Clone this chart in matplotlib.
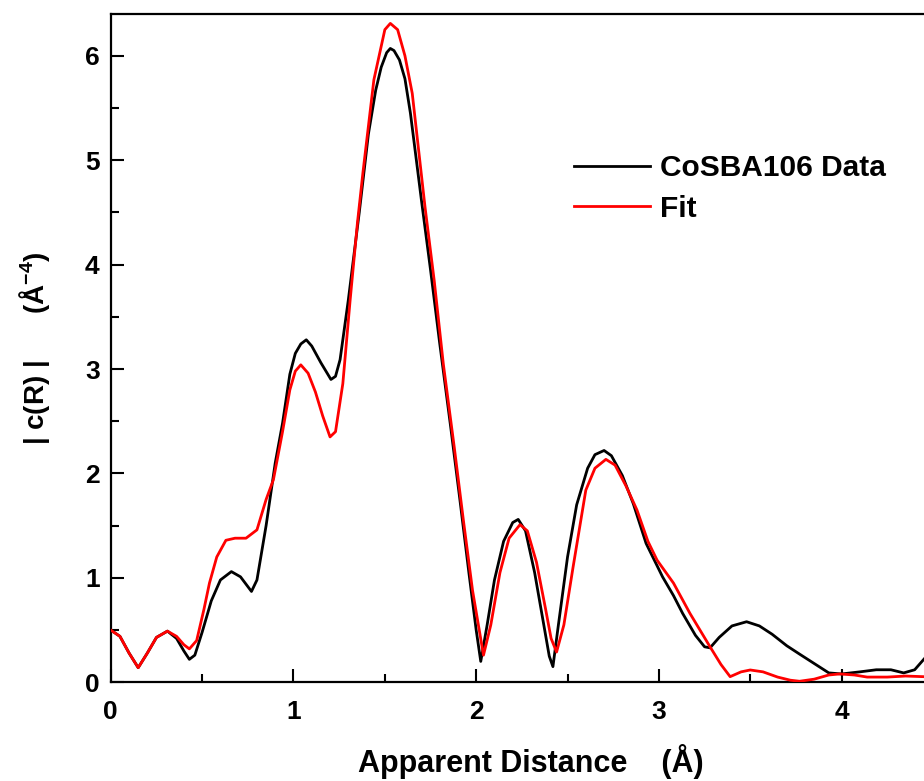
import matplotlib
matplotlib.use('Agg')
import matplotlib.pyplot as plt
from matplotlib.ticker import MultipleLocator

plt.rcParams['font.family'] = ['Liberation Sans', 'DejaVu Sans']
plt.rcParams['font.weight'] = 'bold'
plt.rcParams['mathtext.fontset'] = 'custom'
plt.rcParams['mathtext.rm'] = 'Liberation Sans:bold'
plt.rcParams['mathtext.bf'] = 'Liberation Sans:bold'
plt.rcParams['mathtext.default'] = 'bf'

# CoSBA106 data, |c(R)| vs apparent distance
data_r = [0.00, 0.05, 0.10, 0.15, 0.20, 0.25, 0.31, 0.36, 0.40, 0.43, 0.46, 0.50,
          0.55, 0.60, 0.66, 0.71, 0.77, 0.80, 0.85, 0.90, 0.94, 0.98, 1.01,
          1.04, 1.07, 1.10, 1.15, 1.205, 1.23, 1.255, 1.30, 1.36, 1.41, 1.45,
          1.48, 1.51, 1.53, 1.55, 1.58, 1.61, 1.64, 1.70, 1.75, 1.80, 1.86,
          1.91, 1.96, 2.00, 2.025, 2.06, 2.10, 2.15, 2.20, 2.23, 2.27, 2.32,
          2.37, 2.40, 2.42, 2.45, 2.50, 2.55, 2.61, 2.65, 2.70, 2.74, 2.80,
          2.86, 2.93, 3.02, 3.08, 3.13, 3.20, 3.25, 3.28, 3.33, 3.40, 3.48,
          3.55, 3.62, 3.70, 3.77, 3.85, 3.93, 4.00, 4.10, 4.19, 4.27, 4.34,
          4.40, 4.46, 4.52]
data_c = [0.50, 0.44, 0.28, 0.14, 0.28, 0.43, 0.49, 0.42, 0.30, 0.22, 0.26, 0.48,
          0.78, 0.98, 1.06, 1.01, 0.87, 0.98, 1.50, 2.10, 2.48, 2.95, 3.15,
          3.24, 3.28, 3.22, 3.06, 2.90, 2.93, 3.09, 3.66, 4.50, 5.25, 5.67,
          5.89, 6.03, 6.07, 6.05, 5.96, 5.78, 5.45, 4.62, 3.95, 3.25, 2.45,
          1.76, 1.05, 0.50, 0.20, 0.55, 0.98, 1.35, 1.53, 1.56, 1.45, 1.05,
          0.55, 0.25, 0.15, 0.55, 1.20, 1.70, 2.05, 2.18, 2.22, 2.17, 1.98,
          1.71, 1.33, 1.01, 0.83, 0.66, 0.45, 0.34, 0.33, 0.43, 0.54, 0.58,
          0.54, 0.46, 0.35, 0.27, 0.18, 0.09, 0.08, 0.10, 0.12, 0.12, 0.09,
          0.12, 0.24, 0.40]

# Fit
fit_r = [0.00, 0.05, 0.10, 0.15, 0.20, 0.25, 0.31, 0.36, 0.40, 0.43, 0.47, 0.51,
         0.54, 0.58, 0.63, 0.68, 0.74, 0.80, 0.85, 0.89, 0.94, 0.98, 1.01,
         1.04, 1.08, 1.12, 1.16, 1.20, 1.23, 1.27, 1.31, 1.35, 1.38, 1.44,
         1.50, 1.53, 1.57, 1.61, 1.65, 1.72, 1.77, 1.82, 1.88, 1.93, 1.98,
         2.04, 2.08, 2.13, 2.18, 2.24, 2.28, 2.33, 2.38, 2.41, 2.44, 2.48,
         2.53, 2.60, 2.65, 2.71, 2.76, 2.82, 2.88, 2.94, 2.99, 3.08, 3.17,
         3.28, 3.34, 3.39, 3.45, 3.50, 3.57, 3.65, 3.72, 3.77, 3.85, 3.93,
         3.99, 4.07, 4.14, 4.25, 4.35, 4.43, 4.52]
fit_c = [0.50, 0.44, 0.28, 0.14, 0.28, 0.43, 0.49, 0.44, 0.36, 0.32, 0.40, 0.70,
         0.95, 1.20, 1.36, 1.38, 1.38, 1.46, 1.75, 1.94, 2.40, 2.80, 2.98,
         3.04, 2.96, 2.78, 2.55, 2.35, 2.40, 2.86, 3.66, 4.40, 4.88, 5.77,
         6.25, 6.31, 6.25, 6.00, 5.64, 4.55, 3.85, 3.05, 2.25, 1.55, 0.88,
         0.26, 0.55, 1.05, 1.38, 1.51, 1.45, 1.15, 0.70, 0.42, 0.29, 0.55,
         1.10, 1.84, 2.05, 2.135, 2.08, 1.88, 1.65, 1.35, 1.17, 0.95, 0.66,
         0.34, 0.17, 0.054, 0.10, 0.118, 0.10, 0.05, 0.02, 0.01, 0.03, 0.07,
         0.08, 0.07, 0.05, 0.05, 0.06, 0.055, 0.05]

W, H = 924, 781
fig = plt.figure(figsize=(W / 100, H / 100), dpi=100)
ax = fig.add_axes([110.8 / W, (H - 682.3) / H, 840.4 / W, 668.3 / H])

ax.plot(data_r, data_c, color='black', lw=2.0, label='CoSBA106 Data', zorder=3)
ax.plot(fit_r, fit_c, color='#ff0000', lw=2.0, label='Fit', zorder=4)

ax.set_xlim(0, 4.6)
ax.set_ylim(0, 6.4)
ax.xaxis.set_major_locator(MultipleLocator(1))
ax.xaxis.set_minor_locator(MultipleLocator(0.5))
ax.yaxis.set_major_locator(MultipleLocator(1))
ax.yaxis.set_minor_locator(MultipleLocator(0.5))
ax.tick_params(which='both', direction='in', width=1.5, labelsize=19)
ax.tick_params(axis='x', which='both', pad=13)
ax.tick_params(axis='y', which='both', pad=8)
ax.tick_params(which='major', length=9.5)
ax.tick_params(which='minor', length=5.5)
ax.tick_params(top=False, right=False, which='both')
for s in ax.spines.values():
    s.set_linewidth(1.6)

ax.set_xlabel('Apparent Distance    (Å)', fontsize=22, fontweight='bold', labelpad=14)
ax.set_ylabel('| c(R) |      (Å$^{-4}$)', fontsize=20, fontweight='bold', labelpad=24)

ax.legend(loc='upper left', bbox_to_anchor=(574 / W, 1 - 154 / H),
          bbox_transform=fig.transFigure, frameon=False, fontsize=21.5,
          handlelength=2.54, handletextpad=0.33, labelspacing=0.42,
          borderpad=0, borderaxespad=0)

plt.savefig('out.png', dpi=100, facecolor='white')
